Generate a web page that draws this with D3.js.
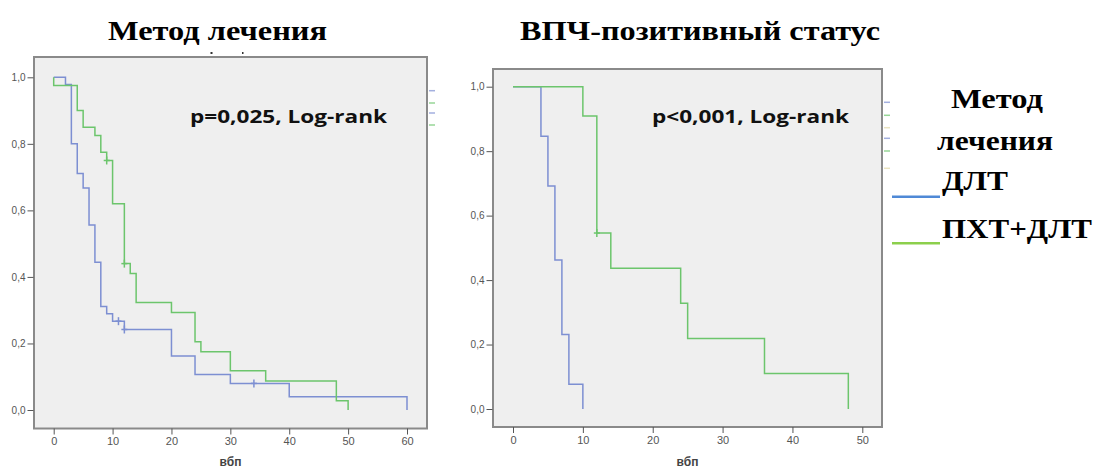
<!DOCTYPE html>
<html><head><meta charset="utf-8">
<script src="https://cdn.jsdelivr.net/npm/d3@7"></script>
<style>html,body{margin:0;padding:0;background:#fff;}svg{display:block;}</style>
</head><body>
<svg id="c" width="1100" height="469"></svg>
<script>
// ---------- DATA ----------
const titleLeft = "Метод лечения";
const titleRight = "ВПЧ-позитивный статус";
const pLeft = "p=0,025, Log-rank";
const pRight = "p<0,001, Log-rank";
const xTitle = "вбп";
const legendTitle = ["Метод", "лечения"];
const groups = ["ДЛТ", "ПХТ+ДЛТ"];

const yTicks = [0, 0.2, 0.4, 0.6, 0.8, 1.0];
const yTickLabels = ["0,0", "0,2", "0,4", "0,6", "0,8", "1,0"];
const xTicksLeft = [0, 10, 20, 30, 40, 50, 60];
const xTicksRight = [0, 10, 20, 30, 40, 50];

// Kaplan–Meier steps [time, survival after step]
const leftDLT = [[0,1],[2,0.978],[3,0.8],[4,0.711],[5,0.667],[6,0.556],[7,0.444],[8,0.311],[9,0.289],[10,0.267],[12,0.242],[20,0.162],[24,0.107],[30,0.08],[40,0.04],[60,0]];
const leftPCT = [[0,1],[0,0.975],[4,0.9],[5,0.85],[7,0.825],[8,0.775],[9,0.75],[10,0.62],[12,0.44],[13,0.41],[14,0.323],[20,0.293],[24,0.205],[25,0.175],[30,0.118],[36,0.087],[48,0.028],[50,0]];
const leftDLTcens = [[11,0.267],[12,0.242],[34,0.08]];
const leftPCTcens = [[9,0.75],[12,0.44]];

const rightDLT = [[0,1],[4,0.846],[5,0.692],[6,0.462],[7,0.231],[8,0.077],[10,0]];
const rightPCT = [[0,1],[10,0.909],[12,0.546],[14,0.437],[24,0.328],[25,0.219],[36,0.11],[48,0]];
const rightDLTcens = [];
const rightPCTcens = [[12,0.546]];

// ---------- STYLE ----------
const blue = "#7d8fd2", green = "#6cc56c";
const legBlue = "#4f89d6", legGreen = "#8ccf4c";
const serif = "'Liberation Serif','Times New Roman',serif";
const svg = d3.select("#c");

function panel(cfg){
  const g = svg.append("g");
  const x = d3.scaleLinear().domain(cfg.xDomain).range(cfg.xRange);
  const y = d3.scaleLinear().domain([0,1]).range(cfg.yRange);
  g.append("rect").attr("x",cfg.frame[0]).attr("y",cfg.frame[1])
    .attr("width",cfg.frame[2]-cfg.frame[0]).attr("height",cfg.frame[3]-cfg.frame[1])
    .attr("fill","#efefef").attr("stroke","#8a8a8a").attr("stroke-width",2);
  const ya = d3.axisLeft(y).tickValues(yTicks).tickFormat((d,i)=>yTickLabels[i]).tickSize(6).tickPadding(2);
  const yg = g.append("g").attr("transform",`translate(${cfg.frame[0]-0.5},0)`).call(ya);
  yg.select(".domain").remove();
  yg.selectAll("line").attr("stroke","#555");
  yg.selectAll("text").attr("font-family","'Liberation Sans',Arial,sans-serif").attr("font-size",10).attr("fill","#555");
  const xa = d3.axisBottom(x).tickValues(cfg.xTicks).tickFormat(d3.format("d")).tickSize(6).tickPadding(3);
  const xg = g.append("g").attr("transform",`translate(0,${cfg.frame[3]})`).call(xa);
  xg.select(".domain").remove();
  xg.selectAll("line").attr("stroke","#555");
  xg.selectAll("text").attr("font-family","'Liberation Sans',Arial,sans-serif").attr("font-size",11).attr("fill","#555");
  g.append("text").attr("x",(cfg.frame[0]+cfg.frame[2])/2).attr("y",466)
    .attr("text-anchor","middle").attr("font-family","'Liberation Sans',Arial,sans-serif")
    .attr("font-weight","bold").attr("font-size",12).attr("fill","#444").text(xTitle);
  const line = d3.line().x(d=>x(d[0])).y(d=>y(d[1])).curve(d3.curveStepAfter);
  [[cfg.s1,blue],[cfg.s2,green]].forEach(([s,c])=>{
    g.append("path").attr("d",line(s)).attr("fill","none").attr("stroke",c).attr("stroke-width",1.5);
  });
  [[cfg.c1,blue],[cfg.c2,green]].forEach(([cs,c])=>{
    cs.forEach(d=>{
      const cx=x(d[0]), cy=y(d[1]);
      g.append("line").attr("x1",cx).attr("x2",cx).attr("y1",cy-4).attr("y2",cy+4).attr("stroke",c).attr("stroke-width",1.5);
      g.append("line").attr("x1",cx-3).attr("x2",cx+3).attr("y1",cy).attr("y2",cy).attr("stroke",c).attr("stroke-width",1.5);
    });
  });
  g.append("text").attr("x",cfg.pPos[0]).attr("y",cfg.pPos[1])
    .attr("font-family","'Open Sans','Noto Sans',sans-serif").attr("font-weight","bold")
    .attr("font-size",18.5).attr("fill","#111").attr("textLength",197).attr("lengthAdjust","spacingAndGlyphs").text(cfg.p);
  svg.append("text").attr("x",cfg.titlePos[0]).attr("y",cfg.titlePos[1])
    .attr("font-family",serif).attr("font-weight","bold")
    .attr("font-size",28).attr("fill","#000")
    .attr("textLength",cfg.titleLen).attr("lengthAdjust","spacingAndGlyphs").text(cfg.title);
  cfg.stubs.forEach(([yy,c])=>{
    g.append("line").attr("x1",cfg.frame[2]+2).attr("x2",cfg.frame[2]+8).attr("y1",yy).attr("y2",yy)
      .attr("stroke",c).attr("stroke-width",1.5).attr("opacity",0.7);
  });
}

panel({xDomain:[0,60], xRange:[53.7,407], yRange:[410,77.3], frame:[34,57,427,428.5],
  xTicks:xTicksLeft, s1:leftDLT, s2:leftPCT, c1:leftDLTcens, c2:leftPCTcens,
  p:pLeft, pPos:[190,123], title:titleLeft, titlePos:[108,40], titleLen:219,
  stubs:[[90.7,blue],[103,green],[113,blue],[125,green]]});

panel({xDomain:[0,50], xRange:[513,862.3], yRange:[409,86.7], frame:[493,69,882,427],
  xTicks:xTicksRight, s1:rightDLT, s2:rightPCT, c1:rightDLTcens, c2:rightPCTcens,
  p:pRight, pPos:[652,123], title:titleRight, titlePos:[520,40], titleLen:360,
  stubs:[[102.3,blue],[115.3,green],[127.7,"#e3d9a8"],[138.3,blue],[151,green],[168.3,"#e3d9a8"]]});

svg.append("rect").attr("x",210.5).attr("y",52).attr("width",2).attr("height",2).attr("fill","#333");
svg.append("rect").attr("x",242).attr("y",52).attr("width",1.5).attr("height",2).attr("fill","#333");

// legend
const lg = svg.append("g").attr("font-family",serif)
  .attr("font-weight","bold").attr("font-size",27).attr("fill","#000");
const legTitleX = [951, 937], legTitleY = [108, 150], legTitleLen = [92, 116];
legendTitle.forEach((t,i)=>{
  lg.append("text").attr("x",legTitleX[i]).attr("y",legTitleY[i])
    .attr("textLength",legTitleLen[i]).attr("lengthAdjust","spacingAndGlyphs").text(t);
});
const legColors = [legBlue, legGreen];
const legY = [196.7, 243.3];
const legTextY = [190, 238];
const legTextLen = [66, 150];
groups.forEach((gname,i)=>{
  lg.append("line").attr("x1",892).attr("x2",940).attr("y1",legY[i]).attr("y2",legY[i])
    .attr("stroke",legColors[i]).attr("stroke-width",2.5);
  lg.append("text").attr("x",942).attr("y",legTextY[i])
    .attr("textLength",legTextLen[i]).attr("lengthAdjust","spacingAndGlyphs").text(gname);
});
</script>
</body></html>
